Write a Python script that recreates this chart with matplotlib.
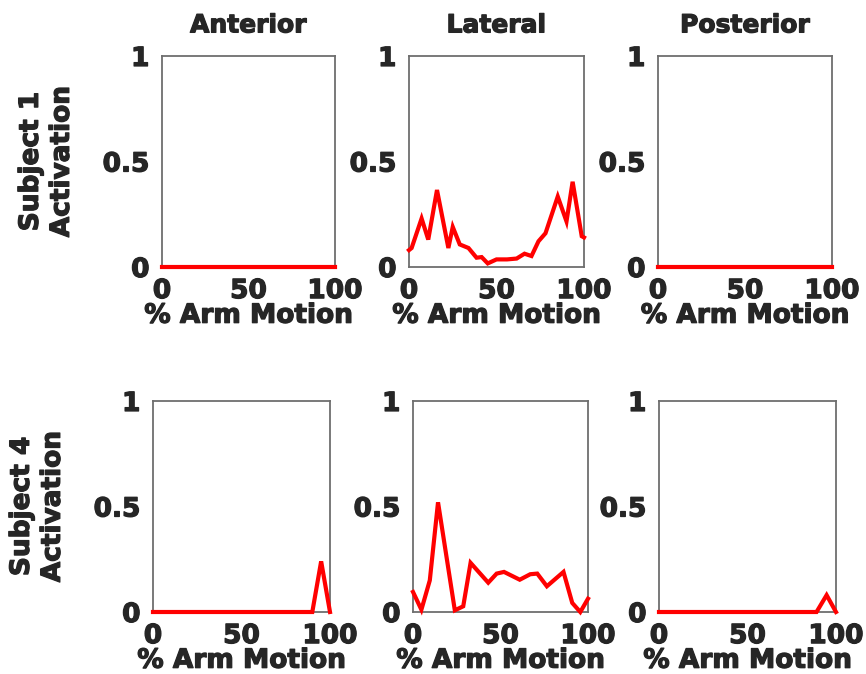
import numpy as np
import matplotlib
matplotlib.use('Agg')
import matplotlib.pyplot as plt
import matplotlib.patheffects as pe

plt.rcParams['font.family'] = 'DejaVu Sans'
plt.rcParams['font.weight'] = 'bold'

muscles = ['Anterior', 'Lateral', 'Posterior']
subjects = ['Subject 1', 'Subject 4']

# Subject 1 curves
s1_ant_x = [0, 100]
s1_ant_y = [0, 0]
s1_lat_x = [0, 1.5, 7.2, 11, 16, 22.5, 25, 29, 34, 38.6, 41.5, 45, 50, 56, 61.5,
            66, 70, 74, 78, 85, 90, 93.5, 98.7, 100]
s1_lat_y = [0.08, 0.09, 0.23, 0.13, 0.365, 0.09, 0.19, 0.107, 0.09, 0.044, 0.047, 0.017,
            0.036, 0.036, 0.04, 0.063, 0.052, 0.122, 0.16, 0.334, 0.216, 0.404, 0.146, 0.14]
s1_post_x = [0, 100]
s1_post_y = [0, 0]

# Subject 4 curves
s4_ant_x = [0, 90, 95, 100]
s4_ant_y = [0, 0, 0.24, 0]
s4_lat_x = [0, 4.8, 9.6, 14.3, 23.9, 28.7, 32.9, 43, 47.8, 52, 61, 67, 71, 76.5,
            86, 91, 95.6, 100]
s4_lat_y = [0.095, 0.011, 0.15, 0.52, 0.008, 0.027, 0.233, 0.139, 0.182, 0.19,
            0.153, 0.179, 0.182, 0.122, 0.19, 0.043, 0.0, 0.063]
s4_post_x = [0, 89, 94.7, 100]
s4_post_y = [0, 0, 0.08, 0]

curves = [
    [(s1_ant_x, s1_ant_y), (s1_lat_x, s1_lat_y), (s1_post_x, s1_post_y)],
    [(s4_ant_x, s4_ant_y), (s4_lat_x, s4_lat_y), (s4_post_x, s4_post_y)],
]

W, H = 866, 674
fig = plt.figure(figsize=(W / 100, H / 100), dpi=100)

# pixel boxes (left, top, right, bottom) for each panel
boxes = [
    [(162, 56, 335, 267), (409, 56, 584, 267), (658, 56, 832, 267)],
    [(153, 401, 330, 612), (413, 401, 588, 612), (659, 401, 836, 612)],
]

txt = '#262626'
fs = 19
thick = [pe.withStroke(linewidth=0.9, foreground=txt)]
for r in range(2):
    for c in range(3):
        l, t, rr, b = boxes[r][c]
        ax = fig.add_axes([l / W, 1 - b / H, (rr - l) / W, (b - t) / H])
        x, y = curves[r][c]
        ax.plot(x, y, color='red', linewidth=3, solid_joinstyle='miter',
                clip_on=False, zorder=5)
        ax.set_xlim(0, 100)
        ax.set_ylim(0, 1)
        ax.set_xticks([0, 50, 100])
        ax.set_yticks([0, 0.5, 1])
        ax.set_yticklabels(['0', '0.5', '1'])
        ax.tick_params(length=0, labelsize=fs, colors=txt)
        ax.tick_params(axis='y', pad=9)
        ax.tick_params(axis='x', pad=8)
        for lab in ax.get_xticklabels() + ax.get_yticklabels():
            lab.set_fontweight('bold')
            lab.set_path_effects(thick)
        for s in ax.spines.values():
            s.set_color('#6e6e6e')
            s.set_linewidth(1.3)
        ax.set_xlabel('% Arm Motion', fontsize=fs, fontweight='bold', color=txt,
                      labelpad=-1, path_effects=thick)
        if r == 0:
            ax.set_title(muscles[c], fontsize=fs - 1, fontweight='bold', color=txt,
                         pad=17, path_effects=thick)
        if c == 0:
            ax.set_ylabel(subjects[r] + '\nActivation', fontsize=fs, fontweight='bold',
                          color=txt, labelpad=20, linespacing=1.25, path_effects=thick)

plt.savefig('out.png', dpi=100)
